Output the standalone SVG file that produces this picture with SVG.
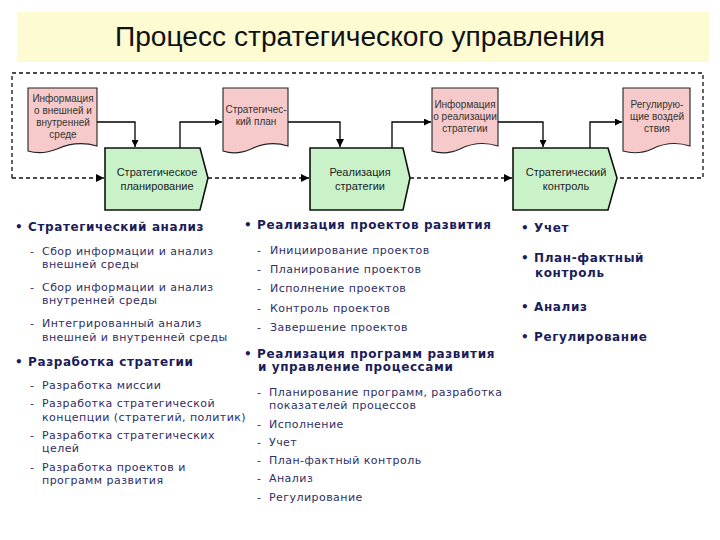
<svg xmlns="http://www.w3.org/2000/svg" width="720" height="540" viewBox="0 0 720 540">
<defs>
<marker id="ah" viewBox="0 0 10 10" refX="10" refY="5" markerWidth="7" markerHeight="7" orient="auto" markerUnits="userSpaceOnUse">
<path d="M0,0 L10,5 L0,10 Z" fill="#000"/>
</marker>
<marker id="ahb" viewBox="0 0 10 10" refX="10" refY="5" markerWidth="9" markerHeight="8" orient="auto" markerUnits="userSpaceOnUse">
<path d="M0,0 L10,5 L0,10 Z" fill="#000"/>
</marker>
</defs>
<style>
.title{font-family:"Liberation Sans",Arial,sans-serif;font-size:27px;fill:#111}
.proc{fill:#c9f2c9;stroke:#111;stroke-width:1.6}
.doc{fill:#f6caca;stroke:#222;stroke-width:1.1}
.pt{font-family:"Liberation Sans",Arial,sans-serif;font-size:11px;fill:#222;text-anchor:middle}
.dt{font-family:"Liberation Sans",Arial,sans-serif;font-size:10px;fill:#333;text-anchor:middle}
.sol{fill:none;stroke:#000;stroke-width:1.3}
.dash{fill:none;stroke:#111;stroke-width:1.3;stroke-dasharray:4,3}
.h{font-family:"DejaVu Sans",Verdana,sans-serif;font-size:12px;font-weight:bold;fill:#1c1c58;letter-spacing:0.6px}
.r{font-family:"DejaVu Sans",Verdana,sans-serif;font-size:11px;fill:#2e2e66;letter-spacing:0.45px}
</style>
<rect x="0" y="0" width="720" height="540" fill="#fff"/>
<g id="title">
<rect x="17" y="12" width="692" height="50" fill="#fcfbd2"/>
<text class="title" x="115" y="46" textLength="490" lengthAdjust="spacingAndGlyphs">Процесс стратегического управления</text>
</g>
<g id="connectors">
<path class="dash" d="M12,178 V73 H703 V178 H617"/>
<path class="dash" d="M12,178 H104" marker-end="url(#ahb)"/>
<path class="dash" d="M208,178 H309" marker-end="url(#ahb)"/>
<path class="dash" d="M410,178 H512" marker-end="url(#ahb)"/>
<path class="sol" d="M97,122 H135 V147" marker-end="url(#ah)"/>
<path class="sol" d="M180,148 V122 H222" marker-end="url(#ah)"/>
<path class="sol" d="M288,122 H340 V147" stroke-width="2" marker-end="url(#ahb)"/>
<path class="sol" d="M392,148 V122 H431" marker-end="url(#ah)"/>
<path class="sol" d="M498,122 H543 V147" marker-end="url(#ah)"/>
<path class="sol" d="M590,148 V122 H622" marker-end="url(#ah)"/>
</g>
<g id="doc-info-env">
<path class="doc" d="M28,88 H97 V146 C80,141 68,144 57,149 C47,153 38,154 28,151 Z"/>
<text class="dt" x="63" y="102">Информация</text>
<text class="dt" x="63" y="114">о внешней и</text>
<text class="dt" x="63" y="126">внутренней</text>
<text class="dt" x="63" y="138">среде</text>
</g>
<g id="doc-plan">
<path class="doc" d="M223,88 H288 V146 C272,141 261,144 251,149 C242,153 232,154 223,151 Z"/>
<text class="dt" x="256" y="113">Стратегичес-</text>
<text class="dt" x="256" y="125">кий план</text>
</g>
<g id="doc-info-impl">
<path class="doc" d="M432,88 H498 V146 C482,141 470,144 460,149 C451,153 441,154 432,151 Z"/>
<text class="dt" x="465" y="108">Информация</text>
<text class="dt" x="465" y="120">о реализации</text>
<text class="dt" x="465" y="132">стратегии</text>
</g>
<g id="doc-regul">
<path class="doc" d="M623,88 H690 V146 C674,141 662,144 652,149 C643,153 633,154 623,151 Z"/>
<text class="dt" x="657" y="108">Регулирую-</text>
<text class="dt" x="657" y="120">щие воздей</text>
<text class="dt" x="657" y="132">ствия</text>
</g>
<g id="proc-planning">
<path class="proc" d="M105,148 H200 L208,178 L200,210 H105 Z"/>
<text class="pt" x="157" y="176">Стратегическое</text>
<text class="pt" x="157" y="190">планирование</text>
</g>
<g id="proc-realization">
<path class="proc" d="M310,148 H403 L410,178 L403,210 H310 Z"/>
<text class="pt" x="360" y="176">Реализация</text>
<text class="pt" x="360" y="190">стратегии</text>
</g>
<g id="proc-control">
<path class="proc" d="M513,148 H608 L617,178 L608,210 H513 Z"/>
<text class="pt" x="566" y="176">Стратегический</text>
<text class="pt" x="566" y="190">контроль</text>
</g>
<g id="col1">
<text class="h" x="15" y="231">• Стратегический анализ</text>
<text class="r" x="30" y="255">-</text><text class="r" x="42" y="255">Сбор информации и анализ</text>
<text class="r" x="42" y="268">внешней среды</text>
<text class="r" x="30" y="291">-</text><text class="r" x="42" y="291">Сбор информации и анализ</text>
<text class="r" x="42" y="304">внутренней среды</text>
<text class="r" x="30" y="327">-</text><text class="r" x="42" y="327">Интегрированный анализ</text>
<text class="r" x="42" y="341">внешней и внутренней среды</text>
<text class="h" x="15" y="366">• Разработка стратегии</text>
<text class="r" x="30" y="389">-</text><text class="r" x="42" y="389">Разработка миссии</text>
<text class="r" x="30" y="407">-</text><text class="r" x="42" y="407">Разработка стратегической</text>
<text class="r" x="42" y="421">концепции (стратегий, политик)</text>
<text class="r" x="30" y="439">-</text><text class="r" x="42" y="439">Разработка стратегических</text>
<text class="r" x="42" y="452">целей</text>
<text class="r" x="30" y="471">-</text><text class="r" x="42" y="471">Разработка проектов и</text>
<text class="r" x="42" y="484">программ развития</text>
</g>
<g id="col2">
<text class="h" x="244" y="229">• Реализация проектов развития</text>
<text class="r" x="257" y="254">-</text><text class="r" x="270" y="254">Инициирование проектов</text>
<text class="r" x="257" y="273">-</text><text class="r" x="270" y="273">Планирование проектов</text>
<text class="r" x="257" y="292">-</text><text class="r" x="270" y="292">Исполнение проектов</text>
<text class="r" x="257" y="312">-</text><text class="r" x="270" y="312">Контроль проектов</text>
<text class="r" x="257" y="331">-</text><text class="r" x="270" y="331">Завершение проектов</text>
<text class="h" x="244" y="358">• Реализация программ развития</text>
<text class="h" x="258" y="371">и управление процессами</text>
<text class="r" x="257" y="396">-</text><text class="r" x="269" y="396">Планирование программ, разработка</text>
<text class="r" x="269" y="409">показателей процессов</text>
<text class="r" x="257" y="428">-</text><text class="r" x="269" y="428">Исполнение</text>
<text class="r" x="257" y="446">-</text><text class="r" x="269" y="446">Учет</text>
<text class="r" x="257" y="464">-</text><text class="r" x="269" y="464">План-фактный контроль</text>
<text class="r" x="257" y="482">-</text><text class="r" x="269" y="482">Анализ</text>
<text class="r" x="257" y="501">-</text><text class="r" x="269" y="501">Регулирование</text>
</g>
<g id="col3">
<text class="h" x="521" y="232">• Учет</text>
<text class="h" x="521" y="262">• План-фактный</text>
<text class="h" x="535" y="277">контроль</text>
<text class="h" x="521" y="311">• Анализ</text>
<text class="h" x="521" y="341">• Регулирование</text>
</g>
</svg>
